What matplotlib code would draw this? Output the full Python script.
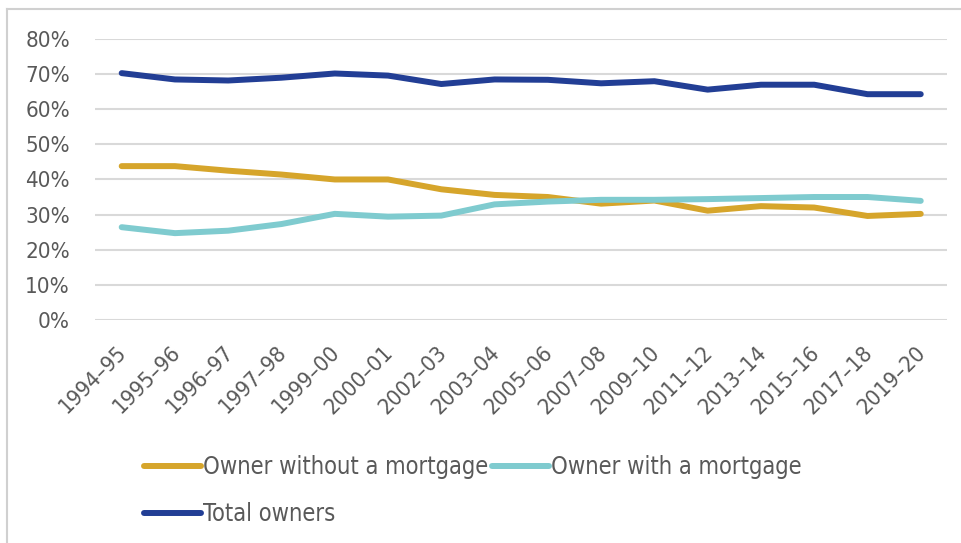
import matplotlib
matplotlib.use("Agg")
import matplotlib.pyplot as plt
from matplotlib.lines import Line2D
from matplotlib.transforms import ScaledTranslation

periods = ["1994–95", "1995–96", "1996–97", "1997–98", "1999–00", "2000–01",
           "2002–03", "2003–04", "2005–06", "2007–08", "2009–10", "2011–12",
           "2013–14", "2015–16", "2017–18", "2019–20"]
without_mortgage = [43.8, 43.8, 42.5, 41.4, 40.0, 40.0, 37.2, 35.6, 35.0, 33.1,
                    34.0, 31.1, 32.4, 32.0, 29.6, 30.2]
with_mortgage = [26.4, 24.7, 25.4, 27.3, 30.2, 29.4, 29.7, 32.9, 33.7, 34.2,
                 34.2, 34.4, 34.7, 35.0, 35.0, 33.9]
total_owners = [70.3, 68.5, 68.2, 69.0, 70.2, 69.6, 67.2, 68.5, 68.4, 67.4,
                68.0, 65.6, 67.0, 67.0, 64.3, 64.3]
yticks = [0, 10, 20, 30, 40, 50, 60, 70, 80]
series_names = ["Owner without a mortgage", "Owner with a mortgage", "Total owners"]

plt.rcParams['font.family'] = ['DejaVu Sans']
plt.rcParams['font.stretch'] = 'condensed'

c_gold = "#D6A52B"
c_teal = "#7FCBCF"
c_navy = "#223E95"
txt = "#595959"

fig = plt.figure(figsize=(9.62, 5.43), dpi=100)
ax = fig.add_axes([0.0988, 0.411, 0.886, 0.517])

x = list(range(len(periods)))
lw = 4.3
ax.plot(x, without_mortgage, color=c_gold, lw=lw, solid_capstyle='round', zorder=3)
ax.plot(x, with_mortgage, color=c_teal, lw=lw, solid_capstyle='round', zorder=3)
ax.plot(x, total_owners, color=c_navy, lw=lw, solid_capstyle='round', zorder=3)

ax.set_xlim(-0.5, len(periods) - 0.5)
ax.set_ylim(0, 80)
ax.set_yticks(yticks)
ax.set_yticklabels([f"{v}%" for v in yticks], fontsize=16, color=txt)
ax.set_xticks(x)
ax.set_xticklabels(periods, rotation=45, ha='right', va='top', rotation_mode='anchor',
                   fontsize=16, color=txt)
ax.tick_params(axis='both', length=0)
ax.tick_params(axis='y', pad=18)
ax.tick_params(axis='x', pad=16)
shift = ScaledTranslation(-5 / 100, 0, fig.dpi_scale_trans)
for lab in ax.get_xticklabels():
    lab.set_transform(lab.get_transform() + shift)
ax.grid(axis='y', color="#D9D9D9", lw=1.5)
ax.set_axisbelow(True)
for s in ax.spines.values():
    s.set_visible(False)

handles = [Line2D([], [], color=c, lw=lw, solid_capstyle='round') for c in (c_gold, c_teal, c_navy)]
leg1 = fig.legend(handles[:2], series_names[:2], loc='upper left',
                  bbox_to_anchor=(0.150, 0.162), ncol=2, frameon=False,
                  fontsize=17, handlelength=2.4, handletextpad=0.1,
                  columnspacing=0.15, borderaxespad=0, borderpad=0)
for t in leg1.get_texts():
    t.set_color(txt)
leg2 = fig.legend(handles[2:], series_names[2:], loc='upper left',
                  bbox_to_anchor=(0.150, 0.075), frameon=False,
                  fontsize=17, handlelength=2.4, handletextpad=0.1,
                  borderaxespad=0, borderpad=0)
for t in leg2.get_texts():
    t.set_color(txt)

# light frame at left and top
fig.add_artist(Line2D([7.5/962, 7.5/962], [0, 1 - 9/543], transform=fig.transFigure, color="#D0D0D0", lw=1.5))
fig.add_artist(Line2D([7.5/962, 1], [1 - 9/543, 1 - 9/543], transform=fig.transFigure, color="#D0D0D0", lw=1.5))

fig.savefig("out.png", dpi=100, facecolor="white")
